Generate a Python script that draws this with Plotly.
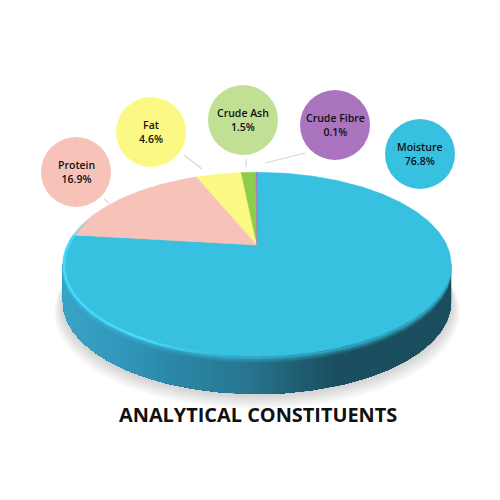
import numpy as np
import plotly.graph_objects as go

labels = ['Moisture', 'Protein', 'Fat', 'Crude Ash', 'Crude Fibre']
values = [76.8, 16.9, 4.6, 1.5, 0.1]
slice_colors = ['#38c0e1', '#f7c3b9', '#fbf983', '#8ccd4b', '#ab74bf']
bubble_colors = ['#38c0e1', '#f7c3b9', '#fbf983', '#c1e093', '#ab74bf']
title = 'ANALYTICAL CONSTITUENTS'

# bubbles and leader lines, in page pixels
bubble_x = [420, 76, 151, 243, 335]
bubble_y = [154, 172, 132, 120, 125]
leader_x = [[104, 109], [184, 202], [246, 246], [305, 265]]
leader_y = [[199, 203], [155, 169], [159, 167], [153, 163]]

# pie placement: perspective disc
cx, cy = 257, 245
R, h, k = 189.8, 88.0, 0.21
depth = 37.5

# side colour stops along x
side_x = [62, 130, 180, 250, 300, 340, 451]
side_c = [(58, 165, 200), (50, 150, 185), (42, 135, 165), (40, 118, 145), (32, 95, 115), (27, 78, 94), (27, 78, 94)]


def rim(theta, r=1.0, dy=0.0):
    s, c = np.sin(theta) * r, np.cos(theta) * r
    d = 1 + k * c
    return cx + R * s / d, cy - h * c / d + dy


def rgb(c):
    return 'rgb(%d,%d,%d)' % tuple(int(v) for v in c)


fig = go.Figure()

# soft shadow below the pie
t = np.linspace(0, 2 * np.pi, 181)
for i in range(12):
    x, y = rim(t, 1.0 + 0.004 * (11 - i), 38 + 0.8 * (11 - i))
    fig.add_trace(go.Scatter(x=x, y=y, mode='lines', fill='toself', line_width=0,
                             fillcolor='rgba(120,120,120,0.028)', hoverinfo='skip'))

# side wall, painted right to left so neighbouring strips leave no seam
a = np.linspace(np.pi / 2 + 0.2, 3 * np.pi / 2 - 0.2, 150)
for i in range(len(a) - 1):
    tt = a[i:]
    xt, yt = rim(tt)
    xb, yb = rim(tt, 1.0, depth)
    xm = rim(a[i])[0]
    col = [np.interp(xm, side_x, [c[j] for c in side_c]) for j in range(3)]
    fig.add_trace(go.Scatter(x=np.r_[xt, xb[::-1], xt[0]], y=np.r_[yt, yb[::-1], yt[0]], mode='lines',
                             fill='toself', fillcolor=rgb(col), line_width=0, hoverinfo='skip'))

# blur of the top face into the wall
for off, alpha in [(6, 0.10), (5, 0.15), (4, 0.25), (3, 0.35), (2, 0.5), (1, 0.7)]:
    x, y = rim(a, 1.0, off)
    fig.add_trace(go.Scatter(x=x, y=y, mode='lines', line=dict(color='rgba(56,192,225,%g)' % alpha, width=1.5),
                             hoverinfo='skip'))

# top face, slices clockwise from 12 o'clock
start = 0.0
total = sum(values)
for val, col, name in zip(values, slice_colors, labels):
    end = start + val / total * 2 * np.pi
    tt = np.linspace(start, end, max(3, int(val * 4)))
    x, y = rim(tt)
    fig.add_trace(go.Scatter(x=np.r_[cx, x, cx], y=np.r_[cy, y, cy], mode='lines', fill='toself',
                             fillcolor=col, line=dict(color=col, width=0.5), name=name, hoverinfo='name'))
    start = end

# bright highlight on the left of the rim, fading towards the front
hl = np.linspace(1.02 * np.pi, 1.62 * np.pi, 31)
for a0, a1 in zip(hl[:-1], hl[1:]):
    mid = (a0 + a1) / 2
    fade = min(1.0, (mid - 1.02 * np.pi) / (0.14 * np.pi)) * min(1.0, (1.62 * np.pi - mid) / (0.1 * np.pi))
    x, y = rim(np.array([a0, a1]), 0.995, 1)
    fig.add_trace(go.Scatter(x=x, y=y, mode='lines', hoverinfo='skip',
                             line=dict(color='rgba(75,222,255,%.2f)' % (0.85 * fade), width=2.5)))

# leader lines
for lx, ly in zip(leader_x, leader_y):
    fig.add_trace(go.Scatter(x=lx, y=ly, mode='lines', line=dict(color='#d8d8d8', width=1.2), hoverinfo='skip'))

# bubbles with their labels
fig.add_trace(go.Scatter(x=bubble_x, y=bubble_y, mode='markers',
                         marker=dict(size=70, color=bubble_colors, line_width=0), hoverinfo='skip'))
for bx, by, name, val in zip(bubble_x, bubble_y, labels, values):
    fig.add_annotation(x=bx, y=by, text='%s<br>%.1f%%' % (name, val), showarrow=False,
                       font=dict(family='Open Sans', size=10.5, color='#111111', weight=600))

fig.add_annotation(x=258, y=414, text=title, showarrow=False,
                   font=dict(family='Open Sans', size=19.9, color='#111111', weight=700))

# ranges start at 8 to cancel the page's body margin
fig.update_layout(width=500, height=500, margin=dict(l=0, r=0, t=0, b=0), showlegend=False,
                  paper_bgcolor='white', plot_bgcolor='white',
                  xaxis=dict(range=[8, 508], visible=False, fixedrange=True),
                  yaxis=dict(range=[508, 8], visible=False, fixedrange=True))
fig.write_html("out.html", config=dict(displayModeBar=False))
